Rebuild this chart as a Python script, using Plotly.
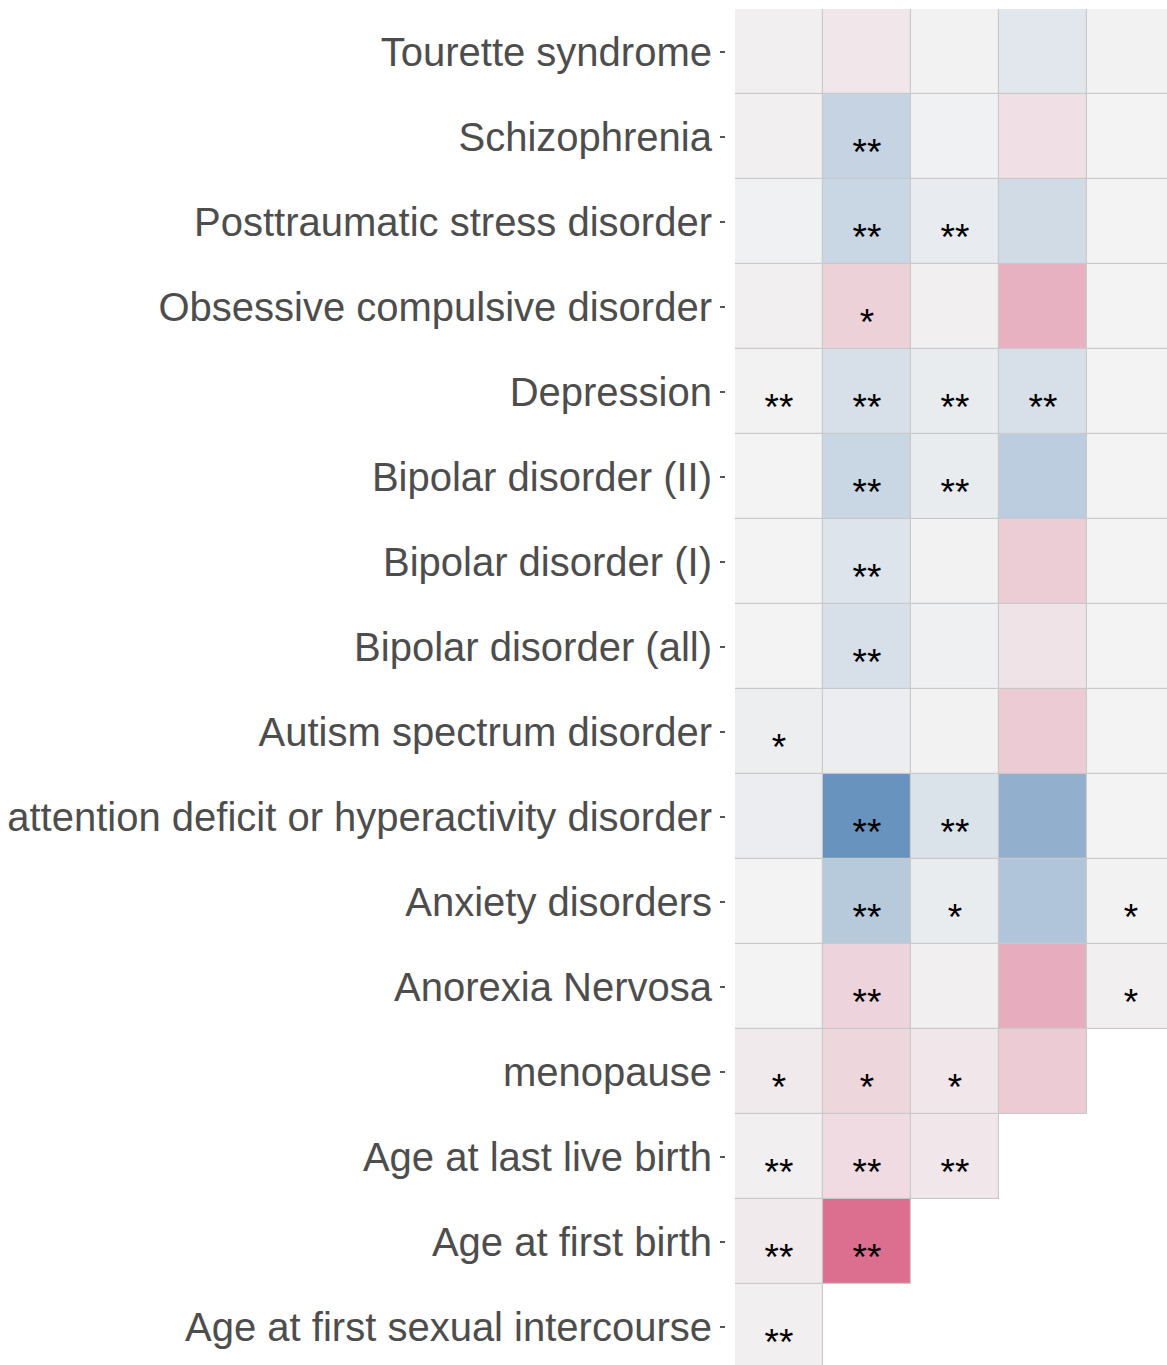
import plotly.graph_objects as go
import math

# Row labels, top to bottom
rows = [
    "Tourette syndrome",
    "Schizophrenia",
    "Posttraumatic stress disorder",
    "Obsessive compulsive disorder",
    "Depression",
    "Bipolar disorder (II)",
    "Bipolar disorder (I)",
    "Bipolar disorder (all)",
    "Autism spectrum disorder",
    "attention deficit or hyperactivity disorder",
    "Anxiety disorders",
    "Anorexia Nervosa",
    "menopause",
    "Age at last live birth",
    "Age at first birth",
    "Age at first sexual intercourse",
]
columns = [0, 1, 2, 3, 4]
N = None
# correlation-like values (estimated from colours), one list per row
values = [
    [0.03, 0.10, -0.01, -0.12, -0.01],
    [0.03, -0.33, -0.02, 0.15, 0.00],
    [-0.02, -0.30, -0.08, -0.25, 0.00],
    [0.03, 0.26, 0.03, 0.50, 0.00],
    [-0.01, -0.20, -0.07, -0.20, 0.00],
    [0.00, -0.30, -0.07, -0.40, 0.00],
    [0.00, -0.16, -0.01, 0.29, 0.00],
    [0.00, -0.20, -0.03, 0.12, 0.00],
    [-0.05, -0.06, -0.01, 0.30, 0.00],
    [-0.06, -1.00, -0.17, -0.70, 0.00],
    [0.00, -0.43, -0.07, -0.48, 0.01],
    [0.00, 0.24, 0.03, 0.53, 0.03],
    [0.07, 0.22, 0.09, 0.30, N],
    [0.03, 0.18, 0.09, N, N],
    [0.07, 1.00, N, N, N],
    [0.03, N, N, N, N],
]
stars = [
    ["", "", "", "", ""],
    ["", "**", "", "", ""],
    ["", "**", "**", "", ""],
    ["", "*", "", "", ""],
    ["**", "**", "**", "**", ""],
    ["", "**", "**", "", ""],
    ["", "**", "", "", ""],
    ["", "**", "", "", ""],
    ["*", "", "", "", ""],
    ["", "**", "**", "", ""],
    ["", "**", "*", "", "*"],
    ["", "**", "", "", "*"],
    ["*", "*", "*", "", ""],
    ["**", "**", "**", "", ""],
    ["**", "**", "", "", ""],
    ["**", "", "", "", ""],
]

nrow = len(rows)
yvals = [nrow - 1 - i for i in range(nrow)]  # top row highest

z = [[(v if v is not None else math.nan) for v in r] for r in values]
zbg = [[(1 if v is not None else math.nan) for v in r] for r in values]

fig = go.Figure()
# gray layer -> cell borders
fig.add_trace(go.Heatmap(
    x=columns, y=yvals, z=zbg, colorscale=[[0, "#c9c9c9"], [1, "#c9c9c9"]],
    showscale=False, hoverinfo="skip", zmin=0, zmax=1,
))
fig.add_trace(go.Heatmap(
    x=columns, y=yvals, z=z,
    colorscale=[[0, "#6893be"], [0.5, "#f3f3f3"], [1, "#dc6f8f"]],
    zmin=-1, zmax=1, xgap=1.2, ygap=1.2, showscale=False, hoverinfo="skip",
))

tx, ty, tt = [], [], []
for i, r in enumerate(stars):
    for j, s in enumerate(r):
        if s:
            tx.append(columns[j])
            ty.append(yvals[i] - 0.225)
            tt.append(s)
fig.add_trace(go.Scatter(
    x=tx, y=ty, text=tt, mode="text", textposition="middle center",
    textfont=dict(family="Liberation Sans, Arial, sans-serif", size=37, color="#000000"),
    hoverinfo="skip", showlegend=False, cliponaxis=False,
))

W, H = 1167, 1365
cw, ch = 88.0, 85.0
left, top = 726, 5
x0 = -0.5 - 9 / cw
x1 = x0 + (W - left) / cw
y1 = (nrow - 0.5) + 4 / ch
y0 = y1 - (H - top) / ch

fig.update_layout(
    width=W, height=H,
    margin=dict(l=left, r=0, t=top, b=0, pad=0),
    plot_bgcolor="white", paper_bgcolor="white",
    showlegend=False,
    xaxis=dict(range=[x0, x1], showticklabels=False, showgrid=False, zeroline=False,
               ticks="", showline=False, fixedrange=True),
    yaxis=dict(range=[y0, y1], tickvals=yvals, ticktext=rows, showgrid=False,
               zeroline=False, showline=False, ticks="outside", ticklen=5,
               tickwidth=1.5, tickcolor="#555555", ticklabelstandoff=0,
               tickfont=dict(family="Liberation Sans, Arial, sans-serif", size=40, color="#4d4d4d"),
               fixedrange=True),
)

fig.write_html("out.html", config={"displayModeBar": False},
               post_script="document.body.style.margin='0';document.body.style.overflow='hidden';")
